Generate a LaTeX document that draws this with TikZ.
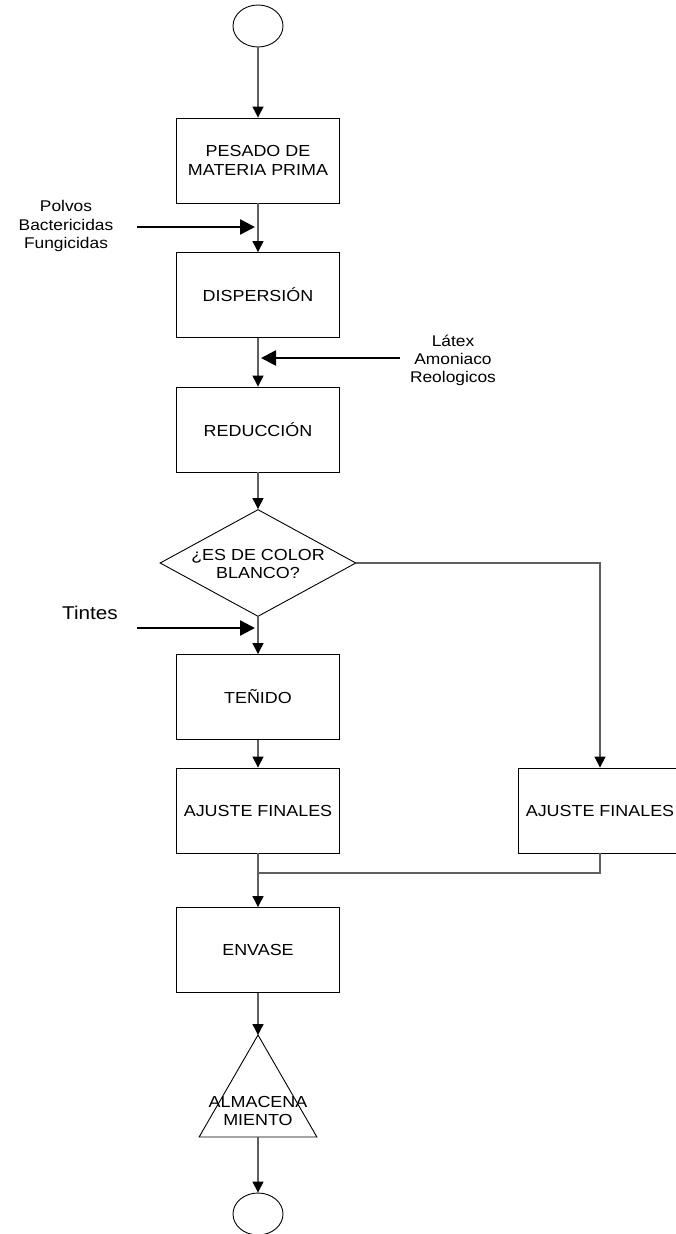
\documentclass[tikz,border=0pt]{standalone}
\usepackage{fontspec}
\setmainfont{Liberation Sans}[FakeStretch=1.12]
\usetikzlibrary{arrows.meta,shapes.geometric,calc}

\definecolor{flowgray}{RGB}{95,95,95}

\tikzset{
  stepbox/.style={draw=black, line width=0.9pt, rectangle, minimum width=163pt,
    minimum height=85pt, inner sep=0pt, align=center,
    font=\fontsize{16}{19.5}\selectfont},
  terminal/.style={draw=black, line width=0.9pt, ellipse, minimum width=50pt,
    minimum height=42pt, inner sep=0pt},
  flow/.style={draw=flowgray, line width=1.3pt,
    -{Triangle[length=11pt,width=11pt,color=black]}},
  flowline/.style={draw=flowgray, line width=1.3pt},
  feed/.style={draw=black, line width=2.6pt,
    -{Triangle[length=15pt,width=15pt]}},
  sidetext/.style={align=center, inner sep=0pt,
    font=\fontsize{15.5}{18.5}\selectfont},
}

\begin{document}
\begin{tikzpicture}[x=1pt, y=-1pt]
  \useasboundingbox (0,0) rectangle (675,1234);

  % main column
  \node[terminal] (start) at (258,26) {};
  \node[stepbox] (pesado) at (258,160.5) {PESADO DE\\MATERIA PRIMA};
  \node[stepbox] (disp) at (258,295) {DISPERSIÓN};
  \node[stepbox] (red) at (258,429.5) {REDUCCIÓN};
  \node[diamond, draw=black, line width=0.9pt, minimum width=196pt,
        minimum height=107pt, inner sep=0pt] (q) at (258,563) {};
  \node[align=center, inner sep=0pt, font=\fontsize{16}{18}\selectfont]
        (qtext) at (258,564) {¿ES DE COLOR\\BLANCO?};
  \node[stepbox] (tenido) at (258,697) {TEÑIDO};
  \node[stepbox] (ajusteA) at (258,810.5) {AJUSTE FINALES};
  \node[stepbox] (ajusteB) at (600,810.5) {AJUSTE FINALES};
  \node[stepbox] (envase) at (258,950) {ENVASE};
  \node[regular polygon, regular polygon sides=3, draw=black, line width=0.9pt,
        minimum size=136pt, inner sep=0pt, outer sep=0pt] (alm) at (258,1103) {};
  \node[align=center, inner sep=0pt, font=\fontsize{16}{18.5}\selectfont]
        (almtext) at (258,1111) {ALMACENA\\MIENTO};
  \node[terminal] (stop) at (258,1214) {};

  % side inputs
  \node[sidetext] (polvos) at (66,226) {Polvos\\Bactericidas\\Fungicidas};
  \coordinate (polvosFrom) at (137,227);
  \coordinate (polvosTo) at (255,227);
  \node[sidetext, font=\fontsize{15.5}{18}\selectfont] (latex) at (453,360)
        {Látex\\Amoniaco\\Reologicos};
  \coordinate (latexFrom) at (400,358);
  \coordinate (latexTo) at (261,358);
  \node[inner sep=0pt, font=\fontsize{18.5}{22}\selectfont] (tintes) at (90,613) {Tintes};
  \coordinate (tintesFrom) at (137,628);
  \coordinate (tintesTo) at (255,628);

  % flow connectors
  \draw[flow] (start.south) -- (pesado.north);
  \draw[flow] (pesado.south) -- (disp.north);
  \draw[flow] (disp.south) -- (red.north);
  \draw[flow] (red.south) -- (q.north);
  \draw[flow] (q.south) -- (tenido.north);
  \draw[flow] (q.east) -- (ajusteB.north |- q.east) -- (ajusteB.north);
  \draw[flow] (tenido.south) -- (ajusteA.north);
  \coordinate (merge) at (258,873);
  \draw[flowline] (ajusteA.south) -- (merge);
  \draw[flow] (ajusteB.south) -- (ajusteB.south |- merge) -- (merge) -- (envase.north);
  \draw[flow] (envase.south) -- (alm.corner 1);
  \draw[flow] (alm.side 2) -- (stop.north);

  % feed arrows
  \draw[feed] (polvosFrom) -- (polvosTo);
  \draw[feed] (latexFrom) -- (latexTo);
  \draw[feed] (tintesFrom) -- (tintesTo);
\end{tikzpicture}
\end{document}
